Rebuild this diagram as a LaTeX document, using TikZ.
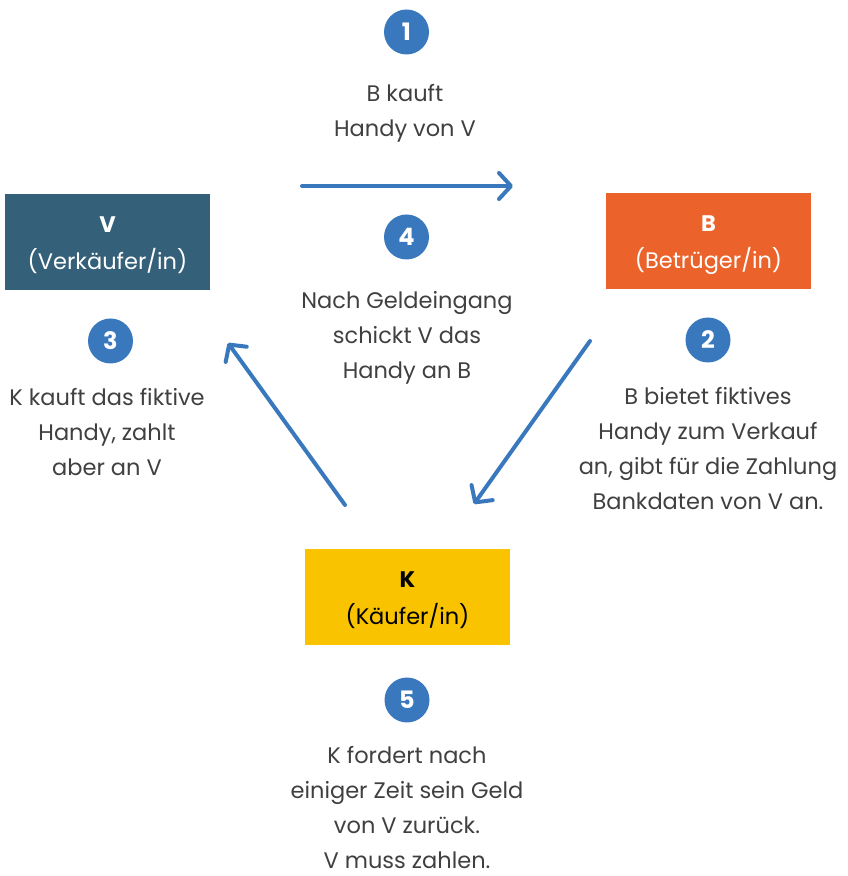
\documentclass[tikz,border=0pt]{standalone}
\usepackage{fontspec}
\setmainfont{Poppins}
\usetikzlibrary{arrows.meta}
\definecolor{vcol}{HTML}{35607A}
\definecolor{bcol}{HTML}{EB632A}
\definecolor{kcol}{HTML}{F9C300}
\definecolor{bluec}{HTML}{3A78BE}
\definecolor{txtc}{HTML}{404040}
\tikzset{
  party/.style={minimum width=205pt, minimum height=96pt, inner sep=0pt, align=center, font=\fontsize{22.5}{37}\selectfont},
  numc/.style={circle, fill=bluec, minimum size=45pt, inner sep=0pt, text=white, font=\fontsize{24}{24}\selectfont\bfseries},
  desc/.style={align=center, inner sep=0pt, text=txtc, font=\fontsize{22.5}{35}\selectfont},
  flow/.style={draw=bluec, line width=4pt, line cap=round, -{Straight Barb[length=12pt,width=26pt,line cap=round,line join=round]}},
}
\begin{document}
\begin{tikzpicture}[x=1pt,y=1pt]
\useasboundingbox (0,0) rectangle (847,876);
\node[party, fill=vcol, text=white] (V) at (107.5,634) {};
\node[party, fill=bcol, text=white] (B) at (708.5,635) {};
\node[party, fill=kcol, text=black] (K) at (407.5,279) {};
\node[party, text=white] (Vt) at (107.5,631) {\textbf{V}\\(Verkäufer/in)};
\node[party, text=white] (Bt) at (708.5,631) {\textbf{B}\\(Betrüger/in)};
\node[party, text=black] (Kt) at (407.5,276) {\textbf{K}\\(Käufer/in)};
\node[numc] (n1) at (406.5,844) {1};
\node[numc] (n4) at (406.5,639) {4};
\node[numc] (n3) at (110.5,535) {3};
\node[numc] (n2) at (708,536) {2};
\node[numc] (n5) at (407,176) {5};
\node[desc] (t1) at (405,762.5) {B kauft\\Handy von V};
\node[desc] (t4) at (407,538) {Nach Geldeingang\\schickt V das\\Handy an B};
\node[desc] (t3) at (107,444) {K kauft das fiktive\\Handy, zahlt\\aber an V};
\node[desc] (t2) at (708,427.5) {B bietet fiktives\\Handy zum Verkauf\\an, gibt für die Zahlung\\Bankdaten von V an.};
\node[desc] (t5) at (407,68) {K fordert nach\\einiger Zeit sein Geld\\von V zurück.\\V muss zahlen.};
\coordinate (a1s) at (302,690);
\coordinate (a1e) at (513,690);
\coordinate (a2s) at (590,535);
\coordinate (a2e) at (474,372);
\coordinate (a3s) at (345,371);
\coordinate (a3e) at (228,533);
\draw[flow] (a1s) -- (a1e);
\draw[flow] (a2s) -- (a2e);
\draw[flow] (a3s) -- (a3e);
\end{tikzpicture}
\end{document}
